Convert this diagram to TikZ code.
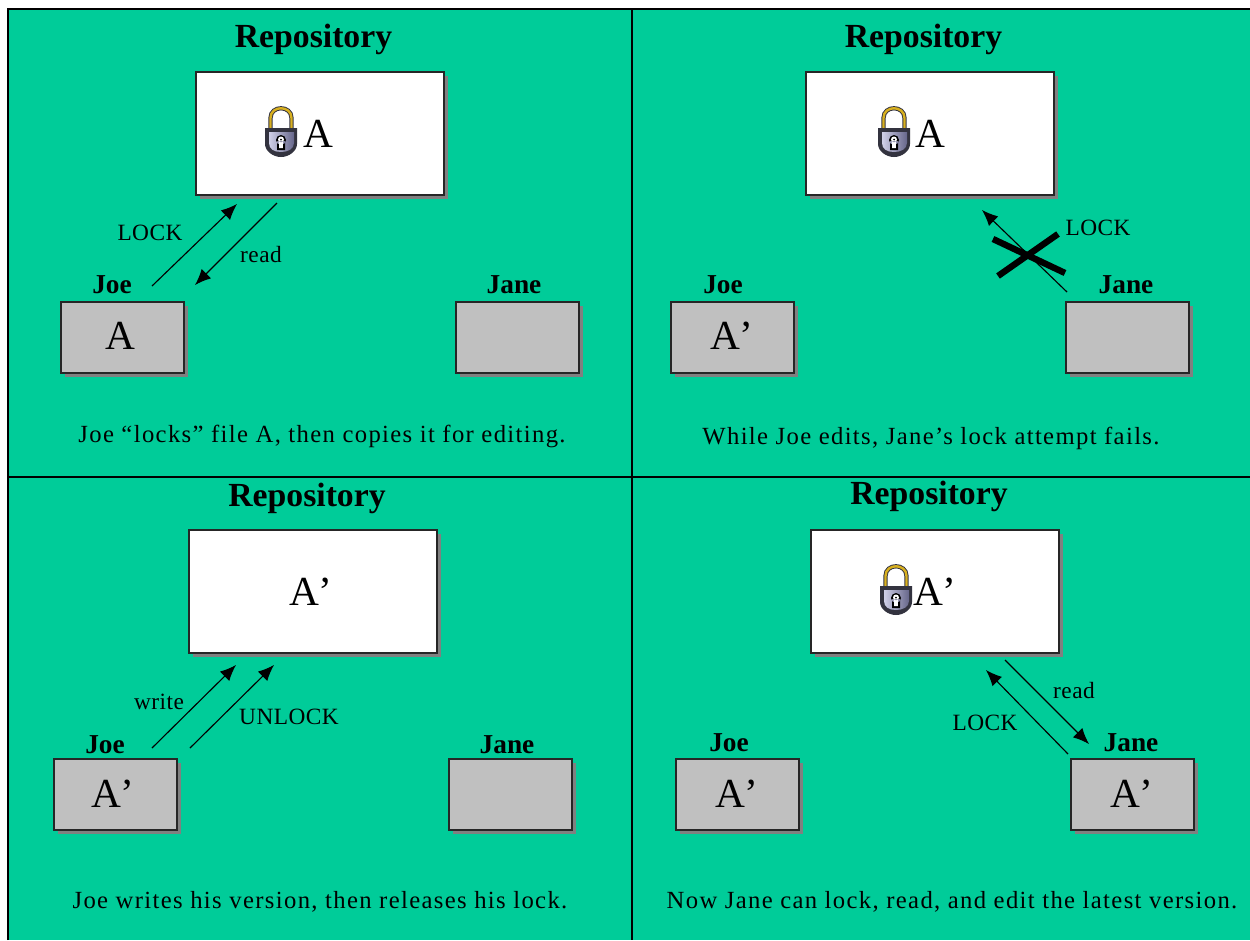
\documentclass[tikz,border=0pt]{standalone}
\usepackage{fontspec}
\setmainfont{Liberation Serif}
\newfontfamily\capfont[LetterSpace=5.5]{Liberation Serif}
\newfontfamily\lblfont[LetterSpace=2]{Liberation Serif}
\usetikzlibrary{arrows.meta,shadows}
\definecolor{panelgreen}{HTML}{00CC99}
\definecolor{boxgray}{HTML}{C0C0C0}
\definecolor{shadowgray}{HTML}{808080}
\definecolor{lockgold}{HTML}{D8B020}
\definecolor{locklight}{HTML}{D0D0E8}
\definecolor{lockshade}{HTML}{66668A}
\definecolor{lockdark}{HTML}{33333F}
\tikzset{
  x=0.75pt,y=-0.75pt,
  basebox/.style={draw=black!85,line width=1.4pt,anchor=north west,inner sep=0pt,
    drop shadow={shadow xshift=3pt,shadow yshift=-3pt,fill=shadowgray,opacity=1}},
  repobox/.style={basebox,fill=white,minimum width=186.3pt,minimum height=92.6pt},
  userbox/.style={basebox,fill=boxgray,minimum width=92.6pt,minimum height=53.4pt},
  titletext/.style={anchor=base,inner sep=0pt,font=\bfseries\fontsize{25.3}{25}\selectfont},
  whotext/.style={anchor=base,inner sep=0pt,font=\bfseries\fontsize{20.5}{20}\selectfont},
  bigtext/.style={anchor=base,inner sep=0pt,font=\fontsize{31}{31}\selectfont},
  lbltext/.style={anchor=base,inner sep=0pt,font=\lblfont\fontsize{17.5}{18}\selectfont},
  captext/.style={anchor=base,inner sep=0pt,font=\capfont\fontsize{18.5}{20}\selectfont},
  arrowline/.style={line width=0.85pt,-{Latex[length=12pt,width=10pt]}},
  frameline/.style={line width=1.2pt,draw=black},
  crossline/.style={line width=4.8pt,draw=black},
  padlock/.pic={
    \draw[lockdark,line width=3.2pt] (-10.5,-4) -- (-10.5,-14) .. controls (-10.5,-27) and (10.5,-27) .. (10.5,-14) -- (10.5,-4);
    \draw[lockgold,line width=1.8pt] (-10.5,-4) -- (-10.5,-14) .. controls (-10.5,-27) and (10.5,-27) .. (10.5,-14) -- (10.5,-4);
    \fill[lockdark] (-16,-4) -- (16,-4) -- (16,12) .. controls (16,19) and (8,25) .. (0,25)
      .. controls (-8,25) and (-16,19) .. (-16,12) -- cycle;
    \shade[left color=locklight,right color=lockshade] (-12,0) -- (13,0) -- (13,11) .. controls (13,17) and (7,20) .. (0,20)
      .. controls (-7,20) and (-12,17) .. (-12,11) -- cycle;
    \fill[black] (0,8) circle (5) (-4,9) rectangle (4,18);
    \fill[white] (0,7.5) circle (3) (-1.8,9) rectangle (1.8,16);
    \fill[black] (0,7.5) circle (1);
  }
}
\newcommand{\Aprime}{A\kern-0.6pt’}
\begin{document}
\begin{tikzpicture}
\useasboundingbox (0,0) rectangle (1250,940);
\fill[white] (0,0) rectangle (1250,940);
\fill[panelgreen] (8,9) rectangle (1250,940);
\coordinate (fa) at (8,940); \coordinate (fb) at (8,9); \coordinate (fc) at (1250,9);
\coordinate (va) at (632,9); \coordinate (vb) at (632,940);
\coordinate (ha) at (8,477); \coordinate (hb) at (1250,477);
\draw[frameline] (fa) -- (fb) -- (fc);
\draw[frameline] (va) -- (vb);
\draw[frameline] (ha) -- (hb);

% panel 1
\node[titletext] (t1) at (313.5,47.5) {Repository};
\node[repobox] (r1) at (195,71) {};
\pic at (281,132) {padlock};
\node[bigtext] (r1a) at (318,147) {A};
\node[whotext] (j1) at (112,293) {Joe};
\node[userbox] (b1) at (60,301) {};
\node[bigtext] (b1a) at (120.5,349) {A};
\node[whotext] (n1) at (514,293) {Jane};
\node[userbox] (c1) at (455,301) {};
\coordinate (a1s) at (152,286); \coordinate (a1e) at (237,204);
\coordinate (a2s) at (277,203); \coordinate (a2e) at (195,285);
\draw[arrowline] (a1s) -- (a1e);
\draw[arrowline] (a2s) -- (a2e);
\node[lbltext] (l1) at (150,240) {LOCK};
\node[lbltext] (l2) at (261,262) {read};
\node[captext] (k1) at (322,442) {Joe “locks” file A, then copies it for editing.};

% panel 2
\node[titletext] (t2) at (923.5,47.5) {Repository};
\node[repobox] (r2) at (805,71) {};
\pic at (894,132) {padlock};
\node[bigtext] (r2a) at (930,147) {A};
\node[whotext] (j2) at (723,293) {Joe};
\node[userbox] (b2) at (670,301) {};
\node[bigtext] (b2a) at (731.5,349) {\Aprime};
\node[whotext] (n2) at (1126,293) {Jane};
\node[userbox] (c2) at (1065,301) {};
\coordinate (a3s) at (1067,292); \coordinate (a3e) at (982,210);
\draw[arrowline] (a3s) -- (a3e);
\coordinate (x1a) at (993,239); \coordinate (x1b) at (1065,273);
\coordinate (x2a) at (998,276); \coordinate (x2b) at (1058,234);
\draw[crossline] (x1a) -- (x1b);
\draw[crossline] (x2a) -- (x2b);
\node[lbltext] (l3) at (1098,235) {LOCK};
\node[captext] (k2) at (931,444) {While Joe edits, Jane’s lock attempt fails.};

% panel 3
\node[titletext] (t3) at (307,506) {Repository};
\node[repobox] (r3) at (188,529) {};
\node[bigtext] (r3a) at (310.5,605) {\Aprime};
\node[whotext] (j3) at (105,753) {Joe};
\node[userbox] (b3) at (53,758) {};
\node[bigtext] (b3a) at (113,807) {\Aprime};
\node[whotext] (n3) at (507,753) {Jane};
\node[userbox] (c3) at (448,758) {};
\coordinate (a4s) at (152,748); \coordinate (a4e) at (236,665);
\coordinate (a5s) at (190,748); \coordinate (a5e) at (274,665);
\draw[arrowline] (a4s) -- (a4e);
\draw[arrowline] (a5s) -- (a5e);
\node[lbltext] (l4) at (159,709) {write};
\node[lbltext] (l5) at (289,724) {UNLOCK};
\node[captext] (k3) at (320,908) {Joe writes his version, then releases his lock.};

% panel 4
\node[titletext] (t4) at (929,504) {Repository};
\node[repobox] (r4) at (810,529) {};
\pic at (896,590) {padlock};
\node[bigtext] (r4a) at (935,605) {\Aprime};
\node[whotext] (j4) at (729,751) {Joe};
\node[userbox] (b4) at (675,758) {};
\node[bigtext] (b4a) at (736.5,807) {\Aprime};
\node[whotext] (n4) at (1131,751) {Jane};
\node[userbox] (c4) at (1070,758) {};
\node[bigtext] (c4a) at (1132,807) {\Aprime};
\coordinate (a6s) at (1068,754); \coordinate (a6e) at (986,670);
\coordinate (a7s) at (1005,660); \coordinate (a7e) at (1089,744);
\draw[arrowline] (a6s) -- (a6e);
\draw[arrowline] (a7s) -- (a7e);
\node[lbltext] (l6) at (1074,698) {read};
\node[lbltext] (l7) at (985,730) {LOCK};
\node[captext] (k4) at (952,908) {Now Jane can lock, read, and edit the latest version.};
\end{tikzpicture}
\end{document}
